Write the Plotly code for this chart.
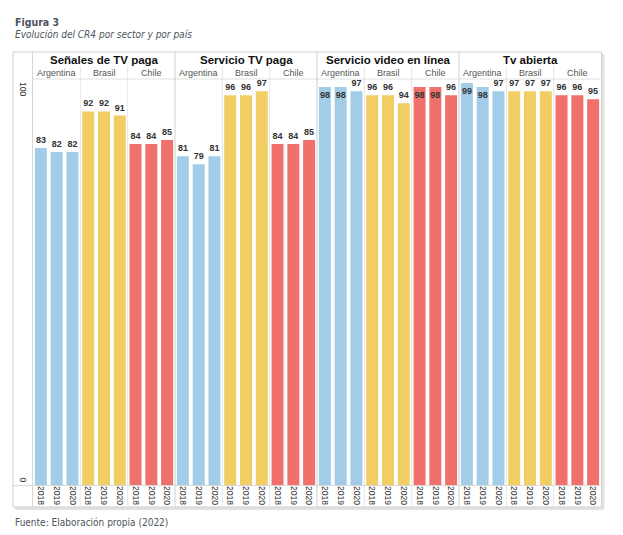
import plotly.graph_objects as go

# data
sectores = ["Señales de TV paga", "Servicio TV paga", "Servicio video en línea", "Tv abierta"]
paises = ["Argentina", "Brasil", "Chile"]
anios = ["2018", "2019", "2020"]

argentina = [[83, 82, 82], [81, 79, 81], [98, 98, 97], [99, 98, 97]]
brasil = [[92, 92, 91], [96, 96, 97], [96, 96, 94], [97, 97, 97]]
chile = [[84, 84, 85], [84, 84, 85], [98, 98, 96], [96, 96, 95]]

colores = {"Argentina": "#A3CCE9", "Brasil": "#F1CE63", "Chile": "#F0716B"}
valores = {"Argentina": argentina, "Brasil": brasil, "Chile": chile}

# page body has an 8px margin, so work in window pixels and shift
OFF = 8
W, H = 623, 535
L, R, T, B = 33, 601, 79, 485

ARIAL = "Liberation Sans, Arial"
NARROW = "DejaVu Sans Condensed, Roboto, Liberation Sans"


def px(x):
    return (x - L) / (R - L)


def py(y):
    return (B - y) / (B - T)


fig = go.Figure()

tickvals, ticktext = [], []
idx = 0
for s, sector in enumerate(sectores):
    for pais in paises:
        vals = valores[pais][s]
        xs = list(range(idx, idx + len(vals)))
        fig.add_trace(go.Bar(
            x=xs, y=vals, marker_color=colores[pais], marker_line_width=0,
            text=vals, texttemplate="<b>%{text}</b>", textangle=0,
            textposition=["inside" if v >= 98 else "outside" for v in vals],
            insidetextanchor="end",
            textfont=dict(family=ARIAL, size=9, color="#333333"),
            cliponaxis=False, showlegend=False, hoverinfo="skip",
        ))
        tickvals += xs
        ticktext += anios
        idx += len(vals)

n = idx
shapes = []
# outer box with soft shadow
shapes.append(dict(type="line", xref="paper", yref="paper", x0=px(603), x1=px(603), y0=py(54), y1=py(509),
                   line=dict(color="#e2e2e2", width=3)))
shapes.append(dict(type="line", xref="paper", yref="paper", x0=px(15), x1=px(603), y0=py(508.5), y1=py(508.5),
                   line=dict(color="#e2e2e2", width=3)))
shapes.append(dict(type="rect", xref="paper", yref="paper", x0=px(13), x1=px(601.5), y0=py(52), y1=py(507),
                   line=dict(color="#d0d0d0", width=1)))
# plot top and baseline
shapes.append(dict(type="line", xref="paper", yref="paper", x0=px(33), x1=px(601.5), y0=py(79), y1=py(79),
                   line=dict(color="#e0e0e0", width=1)))
shapes.append(dict(type="line", xref="paper", yref="paper", x0=px(13), x1=px(601.5), y0=py(485.5), y1=py(485.5),
                   line=dict(color="#d8d8d8", width=1)))
shapes.append(dict(type="line", xref="paper", yref="paper", x0=px(32.5), x1=px(32.5), y0=py(52), y1=py(507),
                   line=dict(color="#d8d8d8", width=1)))
# separators
for k in range(1, n // 3):
    x = 3 * k - 0.5
    if k % 3 == 0:
        shapes.append(dict(type="line", xref="x", yref="paper", x0=x, x1=x, y0=py(52), y1=py(507),
                           line=dict(color="#cfcfcf", width=1)))
    else:
        shapes.append(dict(type="line", xref="x", yref="paper", x0=x, x1=x, y0=py(66), y1=py(507),
                           line=dict(color="#e6e6e6", width=1)))

annotations = []
for s, sector in enumerate(sectores):
    annotations.append(dict(x=9 * s + 4, y=py(60), xref="x", yref="paper", text="<b>%s</b>" % sector,
                            xanchor="center", yanchor="middle", showarrow=False,
                            font=dict(family=ARIAL, size=11.5, color="#111111")))
    for c, pais in enumerate(paises):
        annotations.append(dict(x=9 * s + 3 * c + 1, y=py(73), xref="x", yref="paper", text=pais,
                                xanchor="center", yanchor="middle", showarrow=False,
                                font=dict(family=ARIAL, size=9, color="#555555")))

# y labels
annotations.append(dict(x=px(23), y=py(80), xref="paper", yref="paper", text="100", textangle=90,
                        xanchor="center", yanchor="top", showarrow=False,
                        font=dict(family=ARIAL, size=8.5, color="#333")))
annotations.append(dict(x=px(23), y=py(484), xref="paper", yref="paper", text="0", textangle=90,
                        xanchor="center", yanchor="bottom", showarrow=False,
                        font=dict(family=ARIAL, size=8.5, color="#333")))

# titles
annotations.append(dict(x=px(13), y=py(22), xref="paper", yref="paper", text="<b>Figura 3</b>",
                        xanchor="left", yanchor="middle", showarrow=False,
                        font=dict(family=NARROW, size=10.5, color="#4d5560")))
annotations.append(dict(x=px(13), y=py(35), xref="paper", yref="paper", text="<i>Evolución del CR4 por sector y por país</i>",
                        xanchor="left", yanchor="middle", showarrow=False,
                        font=dict(family=NARROW, size=10, color="#4d5560")))
annotations.append(dict(x=px(13), y=py(522), xref="paper", yref="paper", text="Fuente: Elaboración propia (2022)",
                        xanchor="left", yanchor="middle", showarrow=False,
                        font=dict(family=NARROW, size=10, color="#4d5560")))

fig.update_layout(
    width=W - OFF, height=H - OFF,
    margin=dict(l=L - OFF, r=W - R, t=T - OFF, b=H - B, autoexpand=False),
    paper_bgcolor="white", plot_bgcolor="white",
    bargap=0.24,
    uniformtext=dict(minsize=9, mode="show"),
    shapes=shapes, annotations=annotations,
    xaxis=dict(range=[-0.5, n - 0.5], tickvals=tickvals, ticktext=ticktext, tickangle=90,
               showgrid=False, zeroline=False, showline=False, ticks="", automargin=False,
               tickfont=dict(family=ARIAL, size=8.5, color="#333")),
    yaxis=dict(range=[0, 100], showgrid=False, zeroline=False, showticklabels=False, showline=False),
)

fig.write_html("out.html")
